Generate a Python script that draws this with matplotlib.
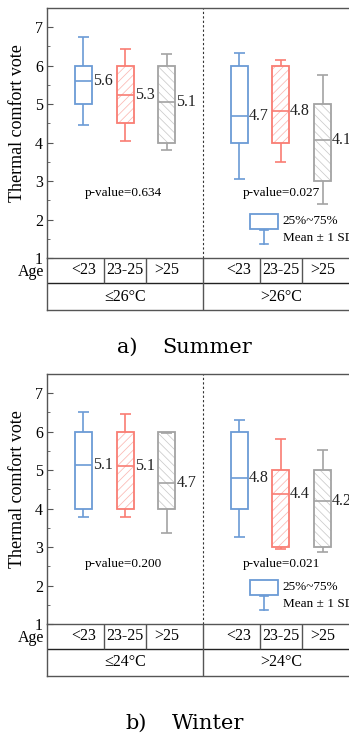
import matplotlib
matplotlib.use('Agg')
import matplotlib.pyplot as plt
from matplotlib.ticker import MultipleLocator

plt.rcParams['font.family'] = ['Liberation Serif', 'DejaVu Serif']
plt.rcParams['hatch.linewidth'] = 0.55

# ---------------- data ----------------
positions = [1, 2, 3, 4.73, 5.73, 6.73]
age_labels = ['<23', '23-25', '>25', '<23', '23-25', '>25']

summer_q1 = [5, 4.5, 4, 4, 4, 3]
summer_q3 = [6, 6, 6, 6, 6, 5]
summer_mean = [5.6, 5.25, 5.05, 4.7, 4.83, 4.08]
summer_lo = [4.45, 4.05, 3.8, 3.06, 3.5, 2.4]
summer_hi = [6.74, 6.44, 6.31, 6.34, 6.16, 5.76]
summer_labels = ['5.6', '5.3', '5.1', '4.7', '4.8', '4.1']
summer_temps = ['≤26°C', '>26°C']
summer_pvals = ['p-value=0.634', 'p-value=0.027']

winter_q1 = [4, 4, 4, 4, 3, 3]
winter_q3 = [6, 6, 6, 6, 5, 5]
winter_mean = [5.13, 5.11, 4.66, 4.79, 4.38, 4.2]
winter_lo = [3.79, 3.78, 3.37, 3.27, 2.95, 2.87]
winter_hi = [6.5, 6.47, 5.97, 6.3, 5.82, 5.53]
winter_labels = ['5.1', '5.1', '4.7', '4.8', '4.4', '4.2']
winter_temps = ['≤24°C', '>24°C']
winter_pvals = ['p-value=0.200', 'p-value=0.021']

edge_colors = ['#6B9BD6', '#F97D73', '#A3A3A3'] * 2
hatch_colors = ['#6B9BD6', '#FBB8B2', '#CACACA'] * 2
hatches = [None, '////', '\\\\\\\\'] * 2

W, H = 349, 740
fig = plt.figure(figsize=(W / 100, H / 100), dpi=100)

XMIN, XMAX = 0.125, 7.605
DIV = (positions[2] + positions[3]) / 2
BOXW = 0.41
CAPW = 0.13
SPINE = '#555555'


def panel(top_px, q1, q3, mean, lo, hi, labels, pvals, pval_y, temps,
          cap_lbl, cap_name, cap_x, cap_base):
    axh = 250
    ax = fig.add_axes([47 / W, (H - top_px - axh) / H, 312 / W, axh / H])
    ax.set_xlim(XMIN, XMAX)
    ax.set_ylim(1, 7.5)
    for s in ax.spines.values():
        s.set_color(SPINE)
        s.set_linewidth(1.0)
    ax.set_xticks([])
    ax.set_yticks(range(1, 8))
    ax.yaxis.set_minor_locator(MultipleLocator(0.5))
    ax.tick_params(axis='y', which='major', direction='in', length=4, labelsize=11.5,
                   color=SPINE, pad=3)
    ax.tick_params(axis='y', which='minor', direction='in', length=2, color=SPINE)
    ax.set_ylabel('Thermal comfort vote', fontsize=13)
    ax.yaxis.set_label_coords(-0.066, 0.54)
    ax.axvline(DIV, color='#333333', lw=0.8, ls=(0, (2, 2)))

    for i, p in enumerate(positions):
        c = edge_colors[i]
        if hatches[i]:
            ax.bar(p, q3[i] - q1[i], bottom=q1[i], width=BOXW, color='white',
                   edgecolor=hatch_colors[i], hatch=hatches[i], linewidth=0, zorder=2)
        else:
            ax.bar(p, q3[i] - q1[i], bottom=q1[i], width=BOXW, color='white',
                   linewidth=0, zorder=2)
        ax.bar(p, q3[i] - q1[i], bottom=q1[i], width=BOXW, fill=False,
               edgecolor=c, linewidth=1.3, zorder=3)
        if hi[i] > q3[i]:
            ax.vlines(p, q3[i], hi[i], color=c, lw=1.2, zorder=3)
        if lo[i] < q1[i]:
            ax.vlines(p, lo[i], q1[i], color=c, lw=1.2, zorder=3)
        ax.hlines([lo[i], hi[i]], p - CAPW, p + CAPW, color=c, lw=1.2, zorder=4)
        ax.hlines(mean[i], p - BOXW / 2, p + BOXW / 2, color=c, lw=1.2, zorder=4)
        ax.text(p + BOXW / 2 + 0.02, mean[i], labels[i], fontsize=11.5,
                ha='left', va='center', color='#222222', zorder=5)

    ax.text(1.96, pval_y, pvals[0], fontsize=9.5, ha='center', va='center')
    ax.text(5.75, pval_y, pvals[1], fontsize=9.5, ha='center', va='center')

    # legend
    tr = ax.transAxes
    lc = edge_colors[0]
    ax.add_patch(plt.Rectangle((0.651, 0.117), 0.089, 0.059, transform=tr,
                               fill=False, edgecolor=lc, lw=1.3, clip_on=False))
    ax.plot([0.696, 0.696], [0.057, 0.111], transform=tr, color=lc, lw=1.2)
    ax.plot([0.683, 0.709], [0.057, 0.057], transform=tr, color=lc, lw=1.2)
    ax.plot([0.683, 0.709], [0.111, 0.111], transform=tr, color=lc, lw=1.2)
    ax.text(0.756, 0.146, '25%~75%', transform=tr, fontsize=9.5, va='center', ha='left')
    ax.text(0.756, 0.081, 'Mean ± 1 SD', transform=tr, fontsize=9.5, va='center', ha='left')

    # table below
    th = 52
    tax = fig.add_axes([47 / W, (H - top_px - axh - th) / H, 312 / W, th / H])
    tax.set_xlim(XMIN, XMAX)
    tax.set_ylim(0, th)
    tax.set_xticks([])
    tax.set_yticks([])
    tax.patch.set_alpha(0)
    for k, s in tax.spines.items():
        s.set_color(SPINE)
        s.set_linewidth(1.0)
    tax.spines['top'].set_visible(False)
    tax.axhline(27, color='#222222', lw=1.0)
    tax.vlines(DIV, 0, th, color=SPINE, lw=1.0)
    seps = [(positions[0] + positions[1]) / 2, (positions[1] + positions[2]) / 2,
            (positions[3] + positions[4]) / 2, (positions[4] + positions[5]) / 2]
    tax.vlines(seps, 27, th, color=SPINE, lw=1.0)
    for i, p in enumerate(positions):
        tax.text(p, 39.5, age_labels[i], fontsize=11.5, ha='center', va='center')
    tax.text((XMIN + DIV) / 2, 13.5, temps[0], fontsize=11.5, ha='center', va='center')
    tax.text((DIV + XMAX) / 2, 13.5, temps[1], fontsize=11.5, ha='center', va='center')

    fig.text(44 / W, 1 - (top_px + axh + 14) / H, 'Age', fontsize=11.5,
             ha='right', va='center')
    fig.text(cap_x[0] / W, 1 - cap_base / H, cap_lbl, fontsize=15, ha='left',
             va='baseline', family=['DejaVu Serif'])
    fig.text(cap_x[1] / W, 1 - cap_base / H, cap_name, fontsize=15, ha='left',
             va='baseline', family=['DejaVu Serif'])


panel(8, summer_q1, summer_q3, summer_mean, summer_lo, summer_hi, summer_labels,
      summer_pvals, 2.69, summer_temps, 'a)', 'Summer', (117, 162), 353)
panel(374, winter_q1, winter_q3, winter_mean, winter_lo, winter_hi, winter_labels,
      winter_pvals, 2.55, winter_temps, 'b)', 'Winter', (125, 172), 729)

fig.savefig('out.png', dpi=100)
